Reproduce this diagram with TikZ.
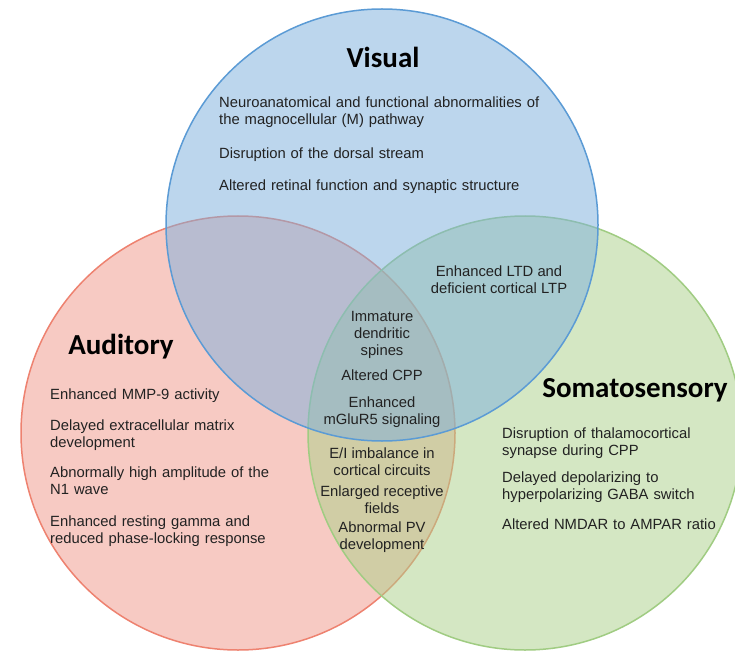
\documentclass[tikz,border=0pt]{standalone}
\usepackage{fontspec}
\setmainfont{Liberation Sans}
\newfontfamily\headfont{Carlito}
\usepackage{xcolor}
\usetikzlibrary{positioning}

\definecolor{visualfill}{RGB}{123,175,221}
\definecolor{visualline}{RGB}{91,155,213}
\definecolor{audfill}{RGB}{241,151,137}
\definecolor{audline}{RGB}{238,130,112}
\definecolor{somafill}{RGB}{171,209,137}
\definecolor{somaline}{RGB}{160,204,130}
\definecolor{textgrey}{RGB}{34,34,34}

\begin{document}
\begin{tikzpicture}[x=1pt, y=-1pt]
    % Styles
    \tikzstyle{circ} = [line width=1.5pt, fill opacity=0.5]
    \tikzstyle{heading} = [font=\headfont\bfseries\fontsize{29}{30}\selectfont, inner sep=0pt, anchor=base]
    \tikzstyle{item} = [font=\fontsize{14.8}{17}\selectfont, text=textgrey, inner sep=0pt, execute at begin node=\strut, execute at end node=\strut]
    \tikzstyle{listitem} = [item, align=left]
    \tikzstyle{midItem} = [item, align=center]

    \useasboundingbox (0,0) rectangle (735,652);
    \fill[white] (0,0) rectangle (735,652);
    \clip (0,0) rectangle (735,652);

    % Circles
    \draw[circ, draw=audline, fill=audfill] (238,433) circle (217);
    \draw[circ, draw=somaline, fill=somafill] (525,433) circle (217);
    \draw[circ, draw=visualline, fill=visualfill] (382,225) circle (216);

    % Visual
    \node[heading] (visual) at (383,68) {Visual};
    \node[listitem, text width=350pt, anchor=north west] (vis1) at (219,95) {Neuroanatomical and functional abnormalities of\\the magnocellular (M) pathway};
    \node[listitem, text width=350pt, below=17pt of vis1] (vis2) {Disruption of the dorsal stream};
    \node[listitem, text width=350pt, below=15pt of vis2] (vis3) {Altered retinal function and synaptic structure};

    % Auditory
    \node[heading] (auditory) at (121,354) {Auditory};
    \node[listitem, text width=260pt, anchor=north west] (aud1) at (50,387) {Enhanced MMP-9 activity};
    \node[listitem, text width=260pt, below=14pt of aud1] (aud2) {Delayed extracellular matrix\\development};
    \node[listitem, text width=260pt, below=13pt of aud2] (aud3) {Abnormally high amplitude of the\\N1 wave};
    \node[listitem, text width=260pt, below=14pt of aud3] (aud4) {Enhanced resting gamma and\\reduced phase-locking response};

    % Somatosensory
    \node[heading] (soma) at (635,397) {Somatosensory};
    \node[listitem, text width=230pt, anchor=north west] (soma1) at (502,426) {Disruption of thalamocortical\\synapse during CPP};
    \node[listitem, text width=230pt, below=10pt of soma1] (soma2) {Delayed depolarizing to\\hyperpolarizing GABA switch};
    \node[listitem, text width=230pt, below=13pt of soma2] (soma3) {Altered NMDAR to AMPAR ratio};

    % Visual and somatosensory
    \node[midItem, anchor=north] (ltd) at (499,266) {Enhanced LTD and\\deficient cortical LTP};

    % All three
    \node[midItem, anchor=north] (mid1) at (382,311) {Immature\\dendritic\\spines};
    \node[midItem, below=8pt of mid1] (mid2) {Altered CPP};
    \node[midItem, below=10pt of mid2] (mid3) {Enhanced\\mGluR5 signaling};

    % Auditory and somatosensory
    \node[midItem, below=18pt of mid3] (as1) {E/I imbalance in\\cortical circuits};
    \node[midItem, below=5pt of as1] (as2) {Enlarged receptive\\fields};
    \node[midItem, below=3pt of as2] (as3) {Abnormal PV\\development};
\end{tikzpicture}
\end{document}
